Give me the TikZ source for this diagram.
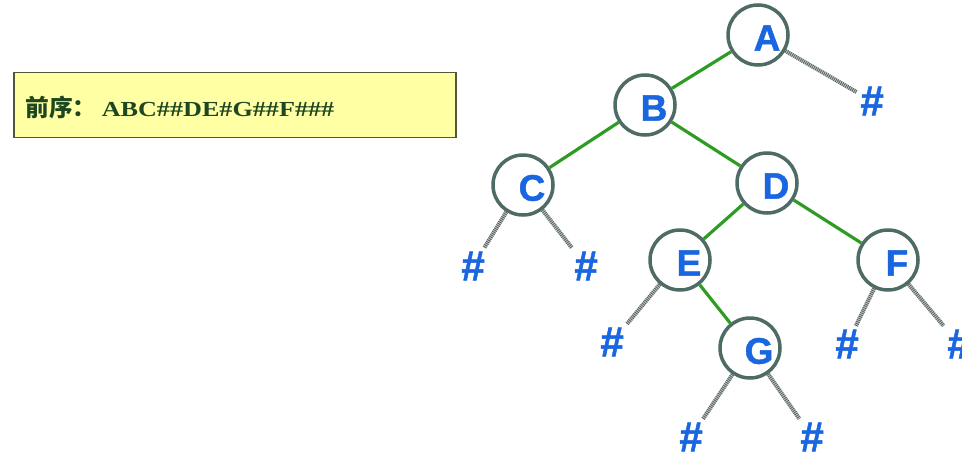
\documentclass[tikz,border=0pt]{standalone}
\usepackage{fontspec}
\setmainfont{Liberation Serif}
\newfontfamily\hei{Noto Sans CJK SC}
\newfontfamily\lett{Liberation Sans}[BoldFeatures={FakeBold=1.2}]
\usetikzlibrary{positioning}

\definecolor{edgegreen}{HTML}{2E9B22}
\definecolor{nodegray}{HTML}{4F6B66}
\definecolor{letblue}{HTML}{1A66E0}
\definecolor{hatchgray}{HTML}{5A6464}
\definecolor{boxyellow}{HTML}{FFFFA3}
\definecolor{boxborder}{HTML}{55553C}
\definecolor{pretext}{HTML}{1E4620}

\tikzset{
  vtx/.style={circle,draw=nodegray,line width=2pt,fill=white,minimum size=1.2cm,inner sep=0pt},
  ltr/.style={text=letblue,font=\lett\bfseries\fontsize{21}{21}\selectfont,xshift=0.18cm,yshift=-0.06cm},
  nul/.style={text=letblue,font=\lett\bfseries\fontsize{24}{24}\selectfont,inner sep=2pt},
  branch/.style={draw=edgegreen,line width=1.8pt},
  nilline/.style={draw=hatchgray!35,line width=2.3pt,
    postaction={draw=hatchgray,line width=2.3pt,dash pattern=on 0.5pt off 0.6pt}}
}

\begin{document}
\begin{tikzpicture}[x=0.02cm,y=-0.02cm]
	\useasboundingbox (0,0) rectangle (962,453);
	% the preorder string
	\node[draw=boxborder,fill=boxyellow,line width=1.1pt,minimum width=8.86cm,minimum height=1.3cm](frame) at (235,105) {};
	\node[anchor=base west,inner sep=0pt,text=pretext](seq) at (25,116)
		{{\hei\bfseries\fontsize{13.5}{13.5}\selectfont 前序：}\hspace{3pt}\scalebox{1.22}[1]{\bfseries\fontsize{12.2}{12.2}\selectfont ABC\#\#DE\#G\#\#F\#\#\#}};
	% tree nodes
	\node[vtx,label={[ltr]center:A}](A) at (758,35) {};
	\node[vtx,label={[ltr]center:B}](B) at (645,105) {};
	\node[vtx,label={[ltr]center:C}](C) at (523,185) {};
	\node[vtx,label={[ltr]center:D}](D) at (767,183) {};
	\node[vtx,label={[ltr]center:E}](E) at (680,260) {};
	\node[vtx,label={[ltr]center:F}](F) at (888,260) {};
	\node[vtx,label={[ltr]center:G}](G) at (750,348) {};
	% empty children
	\node[nul](An) at (872,101) {\#};
	\node[nul](Cl) at (473,266) {\#};
	\node[nul](Cr) at (586,266) {\#};
	\node[nul](El) at (612,342) {\#};
	\node[nul](Fl) at (847,344) {\#};
	\node[nul](Fr) at (959,344) {\#};
	\node[nul](Gl) at (691,437) {\#};
	\node[nul](Gr) at (812,437) {\#};
	% edges
	\draw[branch] (A) -- (B);
	\draw[branch] (B) -- (C);
	\draw[branch] (B) -- (D);
	\draw[branch] (D) -- (E);
	\draw[branch] (D) -- (F);
	\draw[branch] (E) -- (G);
	\draw[nilline] (A) -- (An);
	\draw[nilline] (C) -- (Cl);
	\draw[nilline] (C) -- (Cr);
	\draw[nilline] (E) -- (El);
	\draw[nilline] (F) -- (Fl);
	\draw[nilline] (F) -- (Fr);
	\draw[nilline] (G) -- (Gl);
	\draw[nilline] (G) -- (Gr);
\end{tikzpicture}
\end{document}
